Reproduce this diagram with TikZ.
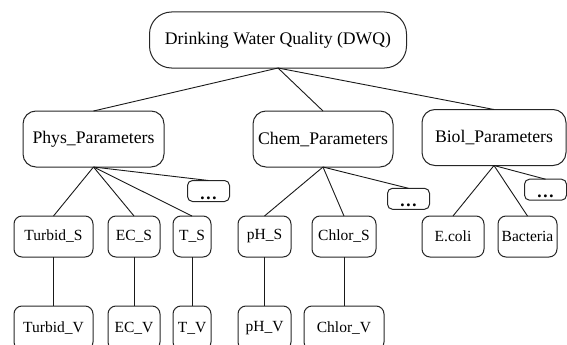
\documentclass[tikz,border=0pt]{standalone}
\usepackage{fontspec}
\setmainfont{Liberation Serif}
\begin{document}
\begin{tikzpicture}[x=1pt,y=-1pt,
  every node/.style={inner sep=0pt, outer sep=0pt},
  topbox/.style={draw=black!85, line width=1pt, rounded corners=22pt, minimum width=257pt, minimum height=56pt, font=\fontsize{17.7}{20}\selectfont},
  parbox/.style={draw=black!85, line width=1pt, rounded corners=13pt, minimum height=56pt, font=\fontsize{17.7}{20}\selectfont},
  leafbox/.style={draw=black!85, line width=1pt, rounded corners=8pt, minimum height=41pt, font=\fontsize{15.5}{18}\selectfont},
  valbox/.style={leafbox, minimum height=44pt},
  dotbox/.style={draw=black!85, line width=1pt, rounded corners=5pt, minimum width=42pt, minimum height=21pt, text height=16pt, text depth=0pt, font=\fontsize{17.7}{20}\selectfont\bfseries},
  conn/.style={draw=black!90, line width=0.9pt}
]
\useasboundingbox (0,0) rectangle (567,345);
\clip (0,0) rectangle (567,345);

\node[topbox] (dwq) at (278,40) {Drinking Water Quality (DWQ)};

\node[parbox, minimum width=141pt] (phys) at (93.5,139) {Phys\_Parameters};
\node[parbox, minimum width=140pt] (chem) at (323,139) {Chem\_Parameters};
\node[parbox, minimum width=144pt] (biol) at (494,137.5) {Biol\_Parameters};

\node[dotbox] (d1) at (208.5,191) {…};
\node[dotbox] (d2) at (408.5,198.8) {…};
\node[dotbox] (d3) at (545.5,189.7) {…};

\node[leafbox, minimum width=79pt] (turbS) at (53.5,236.5) {Turbid\_S};
\node[leafbox, minimum width=52pt] (ecS) at (134,236.5) {EC\_S};
\node[leafbox, minimum width=38pt] (tS) at (192,236.5) {T\_S};
\node[leafbox, minimum width=53pt] (phS) at (264.5,236.5) {pH\_S};
\node[leafbox, minimum width=64pt] (chlS) at (344,236.5) {Chlor\_S};
\node[leafbox, minimum width=62pt] (ecoli) at (453,236.5) {E.coli};
\node[leafbox, minimum width=59pt] (bact) at (527.5,236.5) {Bacteria};

\node[valbox, minimum width=79pt] (turbV) at (53.5,328) {Turbid\_V};
\node[valbox, minimum width=52pt] (ecV) at (134,328) {EC\_V};
\node[valbox, minimum width=38pt] (tV) at (192,328) {T\_V};
\node[valbox, minimum width=53pt] (phV) at (264.5,328) {pH\_V};
\node[valbox, minimum width=80pt] (chlV) at (344,328) {Chlor\_V};

\draw[conn] (dwq.south) -- (phys.north);
\draw[conn] (dwq.south) -- (chem.north);
\draw[conn] (dwq.south) -- (biol.north);

\draw[conn] (phys.south) -- (turbS.north);
\draw[conn] (phys.south) -- (ecS.north);
\draw[conn] (phys.south) -- (tS.north);
\draw[conn] (phys.south) -- (d1.north);

\draw[conn] (chem.south) -- (phS.north);
\draw[conn] (chem.south) -- (chlS.north);
\draw[conn] (chem.south) -- (d2.north);

\draw[conn] (biol.south) -- (ecoli.north);
\draw[conn] (biol.south) -- (bact.north);
\draw[conn] (biol.south) -- (d3.north);

\draw[conn] (turbS.south) -- (turbV.north);
\draw[conn] (ecS.south) -- (ecV.north);
\draw[conn] (tS.south) -- (tV.north);
\draw[conn] (phS.south) -- (phV.north);
\draw[conn] (chlS.south) -- (chlV.north);
\end{tikzpicture}
\end{document}
